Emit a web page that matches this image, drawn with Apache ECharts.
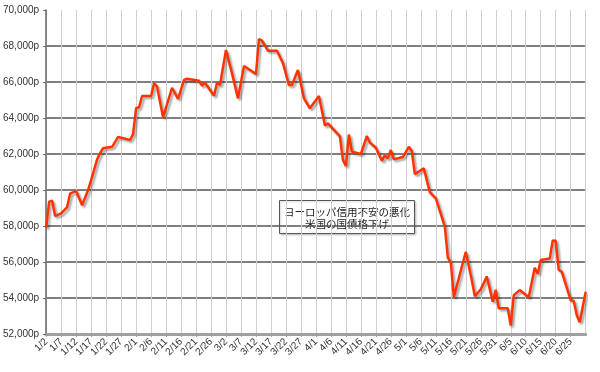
<!DOCTYPE html>
<html>
<head>
<meta charset="utf-8">
<script src="https://cdn.jsdelivr.net/npm/echarts@6/dist/echarts.min.js"></script>
<style>
html,body{margin:0;padding:0;background:#fff;}
#c{width:600px;height:372px;}
</style>
</head>
<body>
<div id="c"></div>
<script>
// Data (year 2012, M/D)
const dates = ['1/2','1/3','1/4','1/5','1/7','1/9','1/10','1/12','1/14','1/16','1/17','1/19','1/20','1/21','1/24','1/26','1/30','1/31',
  '2/1','2/2','2/3','2/6','2/7','2/8','2/10','2/13','2/15','2/17','2/18','2/22','2/23','2/24','2/27','2/28','2/29',
  '3/2','3/4','3/6','3/8','3/12','3/13','3/14','3/16','3/19','3/21','3/23','3/24','3/26','3/28','3/30',
  '4/2','4/4','4/5','4/9','4/10','4/11','4/12','4/13','4/16','4/18','4/19','4/21','4/23','4/24','4/25','4/26','4/27','4/30',
  '5/2','5/3','5/4','5/7','5/9','5/10','5/11','5/14','5/15','5/16','5/17','5/21','5/23','5/24','5/26','5/28','5/30','5/31',
  '6/1','6/4','6/5','6/6','6/8','6/11','6/13','6/14','6/15','6/18','6/19','6/20','6/21','6/22','6/25','6/26','6/27','6/28','6/30'];
const values = [57900,59350,59400,58550,58700,59050,59800,59950,59150,60000,60550,61700,62050,62320,62400,62950,62780,63100,
  64540,64600,65220,65220,65930,65740,64040,65680,65060,66110,66180,66070,65800,65960,65240,65960,65830,
  67780,66480,65090,66890,66445,68390,68300,67740,67740,67040,65830,65830,66670,65090,64540,
  65220,63580,63700,62980,61670,61330,63080,62130,62000,63000,62630,62350,61620,61940,61760,62220,61700,61830,
  62400,62150,60880,61200,59880,59700,59540,57960,56250,55970,54050,56570,55000,54100,54480,55200,53800,54460,
  53430,53430,52470,54150,54440,54040,55680,55350,56110,56190,57200,57180,55560,55460,53870,53830,53060,52650,54350];
const yTicks = {min:52000, max:70000, step:2000};
const xRange = {start:'1/2', end:'6/30', step:5};
const noteLines = ['ヨーロッパ信用不安の悪化','米国の国債格下げ'];

const YEAR = 2012;
function dayIndex(md){
  const [m,d] = md.split('/').map(Number);
  return Math.round((Date.UTC(YEAR,m-1,d) - Date.UTC(YEAR,0,2))/86400000);
}
function dayLabel(i){
  const t = new Date(Date.UTC(YEAR,0,2) + i*86400000);
  return (t.getUTCMonth()+1) + '/' + t.getUTCDate();
}
const seriesData = dates.map((d,i)=>[dayIndex(d), values[i]]);

const chart = echarts.init(document.getElementById('c'), null, {renderer:'canvas'});
const font = '"Liberation Sans", Arial, sans-serif';
chart.setOption({
  animation:false,
  backgroundColor:'#fff',
  grid:{left:45.7, right:14.3, top:10, bottom:38, containLabel:false},
  xAxis:{
    type:'value',
    min:dayIndex(xRange.start), max:dayIndex(xRange.end), interval:xRange.step,
    axisLine:{show:true, lineStyle:{color:'#a0a0a0', width:3}},
    axisTick:{show:true, length:3, lineStyle:{color:'#a0a0a0', width:1}},
    axisLabel:{rotate:45, fontSize:10, color:'#333', fontFamily:font, margin:6,
      showMaxLabel:false, formatter:v=>dayLabel(v)},
    splitLine:{show:true, lineStyle:{color:'#cfcfcf', width:1}}
  },
  yAxis:{
    type:'value', min:yTicks.min, max:yTicks.max, interval:yTicks.step,
    axisLine:{show:true, lineStyle:{color:'#666', width:1.5}},
    axisTick:{show:true, length:3, lineStyle:{color:'#666'}},
    axisLabel:{fontSize:10, color:'#333', fontFamily:font, margin:7,
      formatter:v=>v.toLocaleString('en-US')+'p'},
    splitLine:{show:true, showMaxLine:false, lineStyle:{color:'#555', width:1.5}}
  },
  series:[{
    type:'line', data:seriesData, symbol:'none', smooth:false,
    lineStyle:{color:'#ff3300', width:2.5, shadowColor:'rgba(0,0,0,0.35)', shadowBlur:2, shadowOffsetX:2, shadowOffsetY:2},
    z:5
  }],
  graphic:[{
    type:'group', left:279, top:200, z:10,
    children:[
      {type:'rect', shape:{x:0,y:0,width:135,height:33},
       style:{fill:'#fff', stroke:'#555', lineWidth:1, shadowColor:'rgba(0,0,0,0.2)', shadowBlur:2, shadowOffsetX:1, shadowOffsetY:1}},
      {type:'text', x:67.5, y:11.5, style:{text:noteLines[0], align:'center', verticalAlign:'middle',
        font:'10.5px "Noto Sans CJK JP", sans-serif', fill:'#222'}},
      {type:'text', x:67.5, y:23.5, style:{text:noteLines[1], align:'center', verticalAlign:'middle',
        font:'10.5px "Noto Sans CJK JP", sans-serif', fill:'#222'}}
    ]
  }]
});
</script>
</body>
</html>
